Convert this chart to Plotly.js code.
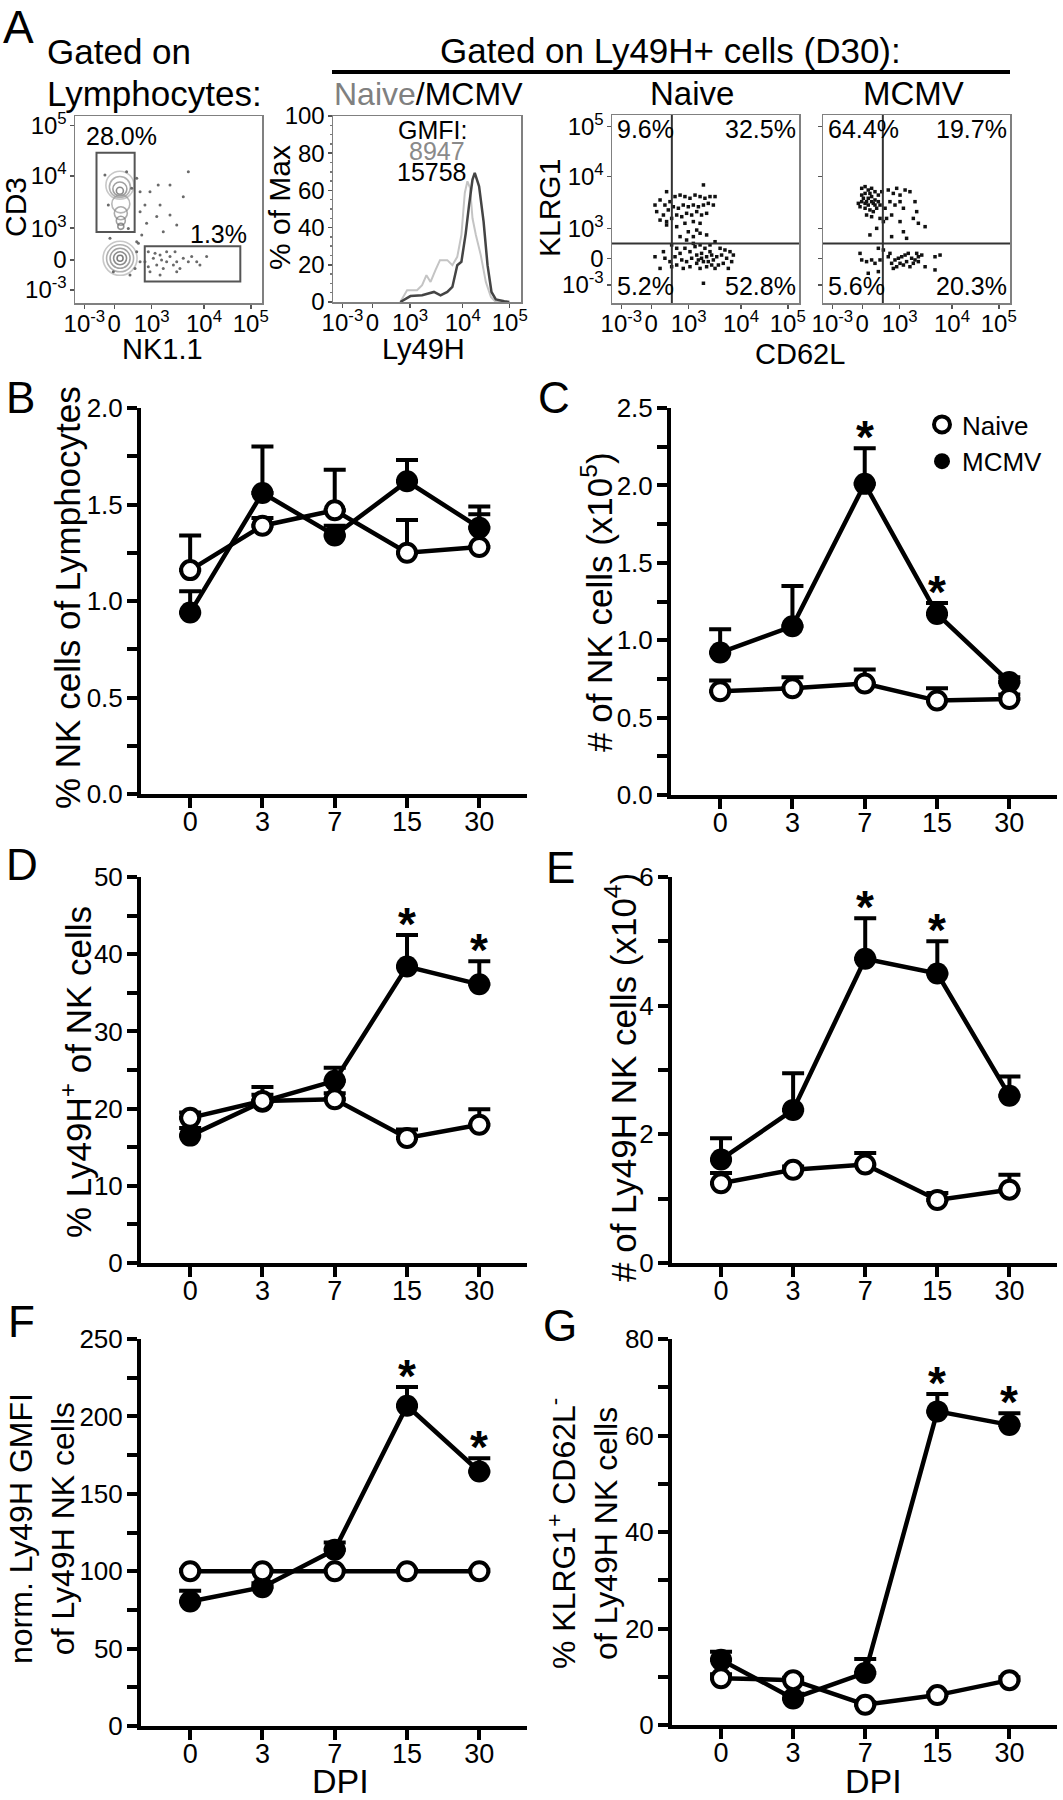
<!DOCTYPE html>
<html>
<head>
<meta charset="utf-8">
<script src="https://cdn.plot.ly/plotly-3.0.1.min.js"></script>
<style>
body { margin: 0; background: #fff; }
#fig { width: 1063px; height: 1800px; }
</style>
</head>
<body>
<div id="fig"></div>
<script>
var W = 1063, H = 1800;
var SANS = '"Liberation Sans", Arial, sans-serif';

// ---- panel A : flow data (display units 0-100 on biexponential scale) ----
var flowTickPos = [5, 21, 41, 69, 94];
var flowTickTxt = ['10<sup>-3</sup>', '0', '10<sup>3</sup>', '10<sup>4</sup>', '10<sup>5</sup>'];
var cd3TickPos = [7, 23, 40, 68, 95];
var klrgTickPos = [9.6, 23.8, 39.7, 67.2, 93.8];
var flowYTxt = ['10<sup>-3</sup>', '0', '10<sup>3</sup>', '10<sup>4</sup>', '10<sup>5</sup>'];

var nkX = [60.6,50.8,44.5,57.9,40.1,37.4,45.5,50.8,43.7,38.3,34.8,34.8,33.0,47.2,54.4,33.0,35.7,
  39.2,41.9,45.5,49.0,43.7,47.2,50.8,54.4,57.9,62.4,70.4,56.1,40.1,37.4,49.0,53.5,45.5,60.6,65.1,
  33.0,34.8,32.1,33.9,16.0,27.6,42.8,46.3,52.6,39.2,54.4,66.8,30.3,28.5,18.7,17.8,29.4,20.5];
var cd3Y = [70.2,63.1,63.1,56.8,59.5,52.4,52.4,47.1,46.2,42.6,48.8,59.5,66.7,38.1,41.7,32.8,36.4,
  27.4,23.9,25.7,22.1,20.3,18.5,24.8,22.1,23.9,24.8,24.8,18.5,16.7,22.1,27.4,27.4,15.0,22.1,22.1,
  27.4,22.1,18.5,31.9,68.4,70.2,26.6,23.0,20.3,19.4,16.7,20.3,61.3,39.9,34.6,52.4,15.0,16.7];
// density contours of the two big populations
var ringX = [24.1,24.1,24.1,24.1,24.1, 24,24,24,24, 24.5,24.5,24.5,24.5];
var ringY = [23.9,23.9,23.9,23.9,23.9, 63,62,61,60, 53,48,44,41];
var ringSize = [34,27,20,13,6, 28,21,14,7, 18,13,9,6];
var ringColor = ['#b0b0b0','#909090','#777','#5a5a5a','#444','#b0b0b0','#909090','#777','#5a5a5a','#999','#888','#777','#666'];
var gateT = [11.5, 31.9, 38.0, 80.4];
var gateNK = [37.3, 88.4, 11.5, 30.4];

var histNaiveX = [35.8,39.4,44.7,47.4,49.7,51.9,54.5,56.9,60.8,63.5,66.1,68.3,70.1,71.5,72.9,74.2,76.0,78.6,81.3,84.0,86.6,92.9];
var histNaiveY = [0,6.3,6.3,9,14.4,10.8,17.1,22.5,22.5,19.8,24.3,36,58.6,64.9,61.3,45,36,25.2,10.8,2.7,0,0];
var histMcmvX = [35.8,41.2,47.4,51.0,53.7,57.2,60.8,63.5,66.1,68.3,70.6,72.4,74.2,75.4,77.7,80.1,82.2,84.3,86.6,91.1,93.8];
var histMcmvY = [0,3.2,3.6,4.5,5.4,3.6,5.4,8.1,19.8,21.6,36.9,52.3,65.8,69.4,62.2,43.2,19.8,5.4,1.4,0.4,0];

var quadX = 32.0, quadY = 31.7;
var naiveCd62l = [29.2,23.0,25.7,28.3,31.0,33.7,36.4,39.0,41.7,44.4,47.1,49.7,52.4,55.1,23.9,27.5,30.1,32.8,35.5,38.1,
  40.8,43.5,46.2,48.9,51.5,54.2,25.7,29.2,31.9,34.6,37.3,39.9,42.6,45.3,47.9,50.6,29.2,34.6,39.0,43.5,47.1,40.8,45.3,
  48.9,36.4,43.5,50.6,47.1,
  23.0,25.7,28.3,31.0,33.7,36.4,39.0,41.7,44.4,47.1,49.7,52.4,55.1,57.8,60.4,63.1,64.9,64.0,61.3,58.6,56.0,53.3,50.6,
  47.9,45.3,42.6,39.9,37.3,34.6,31.9,38.1,41.7,45.3,48.9,51.5,54.2,56.9,59.5,62.2,47.1,50.6,55.1,39.9,43.5,34.6,27.5,
  48.9,31.9,47.9,52.4,46.2,53.3];
var naiveKlrg = [59.2,52.1,54.8,52.1,53.9,56.6,57.4,56.6,55.7,57.4,56.6,55.7,56.6,56.6,48.6,46.8,49.5,51.2,50.4,52.1,
  51.2,52.1,51.2,52.1,53.0,52.1,44.1,43.3,45.0,46.8,45.9,47.7,46.8,48.6,46.8,47.7,41.5,40.6,42.4,43.3,42.4,37.9,38.8,
  62.8,35.3,35.3,36.2,37.1,
  24.6,18.4,23.8,22.0,24.6,26.4,29.1,27.3,30.0,30.9,29.1,30.9,32.6,29.1,28.2,27.3,25.5,22.0,23.8,25.5,24.6,25.5,24.6,
  23.8,25.5,23.8,22.0,22.9,20.2,19.3,18.4,19.3,21.1,22.0,22.0,22.9,20.2,21.1,18.4,18.4,19.3,18.4,33.5,31.7,29.1,27.3,
  10.5,30.9,26.4,27.3,22.9,20.2];
var mcmvCd62l = [20.7,22.5,24.2,26.0,27.8,20.7,22.5,24.2,26.0,27.8,29.6,20.7,22.5,24.2,26.0,27.8,29.6,19.8,22.5,25.1,
  26.9,23.3,26.0,30.5,31.4,18.9,21.6,23.3,25.1,26.9,28.7,
  34.9,37.6,39.4,41.2,43.9,46.5,49.2,50.1,41.2,38.5,43.0,35.8,33.2,34.0,36.7,41.2,43.0,44.7,48.3,51.0,54.6,32.3,28.7,
  25.1,36.7,30.5,
  20.7,23.3,26.0,27.8,30.5,29.6,24.2,19.8,34.9,36.7,38.5,40.3,42.1,43.9,45.6,47.4,49.2,51.0,48.3,44.7,41.2,39.4,37.6,
  43.0,50.1,52.8,59.9,62.6,54.6,59.9,32.3,29.6,35.8,46.5,51.0];
var mcmvKlrg = [61.0,61.9,60.1,61.0,59.2,57.4,58.3,55.7,56.6,54.8,57.4,53.9,53.0,52.1,53.9,52.1,53.9,51.2,50.4,49.5,
  48.6,46.8,45.9,52.1,59.2,53.0,55.7,53.9,58.3,53.0,50.4,
  60.1,58.3,61.0,57.4,60.1,59.2,53.9,48.6,53.9,52.1,50.4,53.9,50.4,45.0,46.8,43.3,37.9,34.4,45.0,42.4,40.6,43.3,39.7,
  36.2,35.3,45.0,
  22.9,22.0,22.9,21.1,22.9,16.7,15.8,26.4,24.6,21.1,22.9,23.8,24.6,25.5,26.4,23.8,22.9,24.6,21.1,22.0,21.1,19.3,18.4,
  20.2,26.4,25.5,24.6,25.5,19.3,17.6,28.2,29.1,26.4,19.3,22.0];

// ---- panels B-G : time course ----
var dpi = ['0', '3', '7', '15', '30'];
var noErr = [0, 0, 0, 0, 0];

var nkPctNaive = [1.16, 1.39, 1.47, 1.25, 1.28];
var nkPctNaiveErr = [0.18, 0.04, 0.21, 0.17, 0.17];
var nkPctMcmv = [0.94, 1.56, 1.34, 1.62, 1.38];
var nkPctMcmvErr = [0.11, 0.24, 0.05, 0.11, 0.11];

var nkNumNaive = [0.67, 0.69, 0.72, 0.61, 0.62];
var nkNumNaiveErr = [0.07, 0.07, 0.09, 0.08, 0.03];
var nkNumMcmv = [0.92, 1.09, 2.01, 1.17, 0.73];
var nkNumMcmvErr = [0.15, 0.26, 0.23, 0.07, 0.03];
var nkNumStars = [2, 3];

var lyPctNaive = [18.8, 21.0, 21.2, 16.2, 17.9];
var lyPctNaiveErr = [0.7, 0.8, 0.8, 1.1, 2.0];
var lyPctMcmv = [16.5, 20.9, 23.6, 38.4, 36.1];
var lyPctMcmvErr = [1.0, 1.9, 1.7, 4.1, 3.0];
var lyPctStars = [3, 4];

var lyNumNaive = [1.24, 1.45, 1.53, 0.98, 1.14];
var lyNumNaiveErr = [0.16, 0.05, 0.18, 0.11, 0.23];
var lyNumMcmv = [1.61, 2.38, 4.73, 4.50, 2.60];
var lyNumMcmvErr = [0.33, 0.57, 0.63, 0.50, 0.30];
var lyNumStars = [2, 3];

var gmfiNaive = [100, 100, 100, 100, 100];
var gmfiNaiveErr = [1, 1, 1, 1, 1];
var gmfiMcmv = [80.4, 89.7, 113.8, 206.9, 164.4];
var gmfiMcmvErr = [6.9, 2.5, 4.7, 12.1, 8.6];
var gmfiStars = [3, 4];

var klrgNaive = [9.7, 9.3, 4.2, 6.2, 9.3];
var klrgNaiveErr = [0.8, 0.5, 0.5, 0.5, 0.6];
var klrgMcmv = [13.5, 5.5, 10.8, 65.0, 62.2];
var klrgMcmvErr = [1.7, 1.0, 2.9, 3.6, 2.4];
var klrgStars = [3, 4];

function px(x) { return x / W; }
function py(y) { return 1 - y / H; }

// ---------- traces ----------
var data = [];

// scatter CD3 vs NK1.1
data.push({type: 'scatter', mode: 'markers', x: ringX, y: ringY, xaxis: 'x', yaxis: 'y', hoverinfo: 'skip',
  marker: {symbol: 'circle-open', size: ringSize, color: ringColor, line: {width: 1.6}}, showlegend: false});
data.push({type: 'scatter', mode: 'markers', x: nkX, y: cd3Y, xaxis: 'x', yaxis: 'y',
  marker: {size: 3, color: '#6a6a6a'}, showlegend: false});

// histogram Ly49H
data.push({type: 'scatter', mode: 'lines', x: histNaiveX, y: histNaiveY, xaxis: 'x2', yaxis: 'y2',
  line: {color: '#c4c4c4', width: 2}, showlegend: false});
data.push({type: 'scatter', mode: 'lines', x: histMcmvX, y: histMcmvY, xaxis: 'x2', yaxis: 'y2',
  line: {color: '#444', width: 2.5}, showlegend: false});

// KLRG1 vs CD62L
data.push({type: 'scatter', mode: 'markers', x: naiveCd62l, y: naiveKlrg, xaxis: 'x3', yaxis: 'y3',
  marker: {symbol: 'square', size: 3.5, color: '#111'}, showlegend: false});
data.push({type: 'scatter', mode: 'markers', x: mcmvCd62l, y: mcmvKlrg, xaxis: 'x4', yaxis: 'y4',
  marker: {symbol: 'square', size: 3.5, color: '#111'}, showlegend: false});

function timeTraces(n, naive, naiveErr, mcmv, mcmvErr) {
  var xa = 'x' + n, ya = 'y' + n;
  return [
    {type: 'scatter', mode: 'lines+markers', name: 'MCMV', x: dpi, y: mcmv, xaxis: xa, yaxis: ya,
      cliponaxis: false, showlegend: false, line: {color: '#000', width: 4.5},
      marker: {size: 22, color: '#000'},
      error_y: {type: 'data', symmetric: false, array: mcmvErr, arrayminus: noErr, color: '#000', thickness: 4, width: 11}},
    {type: 'scatter', mode: 'lines+markers', name: 'Naive', x: dpi, y: naive, xaxis: xa, yaxis: ya,
      cliponaxis: false, showlegend: false, line: {color: '#000', width: 4.5},
      marker: {size: 18, color: '#fff', line: {color: '#000', width: 4}},
      error_y: {type: 'data', symmetric: false, array: naiveErr, arrayminus: noErr, color: '#000', thickness: 4, width: 11}}
  ];
}
data = data.concat(timeTraces(5, nkPctNaive, nkPctNaiveErr, nkPctMcmv, nkPctMcmvErr));
data = data.concat(timeTraces(6, nkNumNaive, nkNumNaiveErr, nkNumMcmv, nkNumMcmvErr));
data = data.concat(timeTraces(7, lyPctNaive, lyPctNaiveErr, lyPctMcmv, lyPctMcmvErr));
data = data.concat(timeTraces(8, lyNumNaive, lyNumNaiveErr, lyNumMcmv, lyNumMcmvErr));
data = data.concat(timeTraces(9, gmfiNaive, gmfiNaiveErr, gmfiMcmv, gmfiMcmvErr));
data = data.concat(timeTraces(10, klrgNaive, klrgNaiveErr, klrgMcmv, klrgMcmvErr));

// legend entries (panel C)
data.push({type: 'scatter', mode: 'markers', name: 'Naive', x: [null], y: [null], xaxis: 'x6', yaxis: 'y6',
  marker: {size: 16, color: '#fff', line: {color: '#000', width: 4}}});
data.push({type: 'scatter', mode: 'markers', name: 'MCMV', x: [null], y: [null], xaxis: 'x6', yaxis: 'y6',
  marker: {size: 18, color: '#000'}});

// ---------- axes ----------
function flowAxis(l, r, vals, txt, showLabels) {
  return {domain: [px(l), px(r)], range: [0, 100], showline: true, mirror: true, linecolor: '#808080', linewidth: 1.5,
    zeroline: false, showgrid: false, ticks: 'outside', ticklen: 4, tickwidth: 1.5, tickcolor: '#555',
    tickmode: 'array', tickvals: vals, ticktext: txt, showticklabels: showLabels, tickangle: 0,
    ticklabelstandoff: -5, tickfont: {family: SANS, size: 24, color: '#000'}, fixedrange: true};
}
function flowYAxis(t, b, vals, txt, showLabels, anchor) {
  var a = flowAxis(0, 0, vals, txt, showLabels);
  a.domain = [py(b), py(t)];
  a.anchor = anchor;
  a.ticklabelstandoff = -2;
  return a;
}
function timeX(l, r, anchor) {
  return {domain: [px(l), px(r)], anchor: anchor, type: 'category', range: [-0.68, 4.66],
    showline: true, linewidth: 4, linecolor: '#000', zeroline: false, showgrid: false,
    ticks: 'outside', ticklen: 10, tickwidth: 4, tickcolor: '#000', ticklabelstandoff: -9, tickangle: 0,
    tickfont: {family: SANS, size: 27, color: '#000'}, fixedrange: true};
}
function timeY(t, b, anchor, top, step, fmt) {
  return {domain: [py(b), py(t)], anchor: anchor, range: [0, top], tick0: 0, dtick: step, tickformat: fmt,
    showline: true, linewidth: 4, linecolor: '#000', zeroline: false, showgrid: false,
    ticks: 'outside', ticklen: 10, tickwidth: 4, tickcolor: '#000', ticklabelstandoff: -1,
    minor: {tick0: 0, dtick: step / 2, ticks: 'outside', ticklen: 10, tickwidth: 4, tickcolor: '#000'},
    tickfont: {family: SANS, size: 26, color: '#000'}, fixedrange: true};
}

var layout = {
  width: W, height: H, margin: {l: 0, r: 0, t: 0, b: 0},
  paper_bgcolor: '#fff', plot_bgcolor: 'rgba(0,0,0,0)',
  font: {family: SANS, color: '#000'},
  showlegend: true,
  legend: {x: px(922), y: py(401), xanchor: 'left', yanchor: 'top', bgcolor: 'rgba(0,0,0,0)',
    font: {family: SANS, size: 26, color: '#000'}, tracegroupgap: 0, itemwidth: 30},

  xaxis: Object.assign(flowAxis(75, 262, flowTickPos, flowTickTxt, true), {anchor: 'y'}),
  yaxis: flowYAxis(116, 303, cd3TickPos, flowYTxt, true, 'x'),
  xaxis2: Object.assign(flowAxis(333, 521, flowTickPos, flowTickTxt, true), {anchor: 'y2'}),
  yaxis2: Object.assign(flowYAxis(116, 302, null, null, true, 'x2'), {tickmode: 'linear', tick0: 0, dtick: 20,
    minor: {dtick: 5, ticks: 'outside', ticklen: 2, tickcolor: '#777'}}),
  xaxis3: Object.assign(flowAxis(612, 799, flowTickPos, flowTickTxt, true), {anchor: 'y3'}),
  yaxis3: flowYAxis(115, 303, klrgTickPos, flowYTxt, true, 'x3'),
  xaxis4: Object.assign(flowAxis(823, 1010, flowTickPos, flowTickTxt, true), {anchor: 'y4'}),
  yaxis4: flowYAxis(115, 303, klrgTickPos, flowYTxt, false, 'x4'),

  xaxis5: timeX(141, 527, 'y5'), yaxis5: timeY(408, 794, 'x5', 2.0, 0.5, '.1f'),
  xaxis6: timeX(671, 1057, 'y6'), yaxis6: timeY(408, 795, 'x6', 2.5, 0.5, '.1f'),
  xaxis7: timeX(141, 527, 'y7'), yaxis7: timeY(877, 1263, 'x7', 50, 10, 'd'),
  xaxis8: timeX(672, 1057, 'y8'), yaxis8: timeY(877, 1263, 'x8', 6, 2, 'd'),
  xaxis9: timeX(141, 527, 'y9'), yaxis9: timeY(1339, 1726, 'x9', 250, 50, 'd'),
  xaxis10: timeX(672, 1057, 'y10'), yaxis10: timeY(1339, 1725, 'x10', 80, 20, 'd')
};

// ---------- shapes ----------
var shapes = [
  {type: 'line', xref: 'paper', yref: 'paper', x0: px(332), x1: px(1010), y0: py(72), y1: py(72), line: {color: '#000', width: 4}},
  {type: 'rect', xref: 'x', yref: 'y', x0: gateT[0], x1: gateT[1], y0: gateT[2], y1: gateT[3], line: {color: '#555', width: 2}},
  {type: 'rect', xref: 'x', yref: 'y', x0: gateNK[0], x1: gateNK[1], y0: gateNK[2], y1: gateNK[3], line: {color: '#555', width: 2}}
];
['3', '4'].forEach(function (n) {
  shapes.push({type: 'line', xref: 'x' + n, yref: 'y' + n, x0: quadX, x1: quadX, y0: 0, y1: 100, line: {color: '#333', width: 2}});
  shapes.push({type: 'line', xref: 'x' + n, yref: 'y' + n, x0: 0, x1: 100, y0: quadY, y1: quadY, line: {color: '#333', width: 2}});
});
layout.shapes = shapes;

// ---------- text ----------
function note(text, x, y, size, opts) {
  return Object.assign({text: text, x: px(x), y: py(y), xref: 'paper', yref: 'paper', showarrow: false,
    font: {family: SANS, size: size, color: '#000'}, xanchor: 'center', yanchor: 'middle'}, opts || {});
}
function rot(text, x, y, size) { return note(text, x, y, size, {textangle: -90}); }
function inAx(n, text, x, y, size, opts) {
  return Object.assign({text: text, x: x, y: y, xref: 'x' + n, yref: 'y' + n, showarrow: false,
    font: {family: SANS, size: size, color: '#000'}, xanchor: 'center', yanchor: 'middle'}, opts || {});
}

var ann = [
  note('A', 18, 27, 46),
  note('Gated on', 45, 52, 35, {xanchor: 'left'}),
  note('Lymphocytes:', 45, 94, 35, {xanchor: 'left'}),
  note('Gated on Ly49H+ cells (D30):', 670, 50, 35),
  note('<span style="color:#808080">Naive</span>/MCMV', 332, 94, 32, {xanchor: 'left'}),
  note('Naive', 692, 94, 33),
  note('MCMV', 913, 94, 33),
  note('NK1.1', 162, 349, 29),
  note('Ly49H', 423, 349, 29),
  note('CD62L', 800, 354, 29),
  rot('CD3', 16, 207, 30),
  rot('% of Max', 280, 208, 30),
  rot('KLRG1', 550, 208, 30),

  inAx('', '28.0%', 24.6, 89.4, 25),
  inAx('', '1.3%', 76.5, 37.1, 25),
  inAx('2', 'GMFI:', 52.7, 92.5, 25),
  inAx('2', '8947', 55.3, 81.2, 25, {font: {family: SANS, size: 25, color: '#8a8a8a'}}),
  inAx('2', '15758', 52.7, 69.9, 25),
  inAx('3', '9.6%', 1.5, 92.8, 25, {xanchor: 'left'}),
  inAx('3', '32.5%', 99.5, 92.8, 25, {xanchor: 'right'}),
  inAx('3', '5.2%', 1.5, 8.8, 25, {xanchor: 'left'}),
  inAx('3', '52.8%', 99.5, 8.8, 25, {xanchor: 'right'}),
  inAx('4', '64.4%', 1.5, 92.8, 25, {xanchor: 'left'}),
  inAx('4', '19.7%', 99.5, 92.8, 25, {xanchor: 'right'}),
  inAx('4', '5.6%', 1.5, 8.8, 25, {xanchor: 'left'}),
  inAx('4', '20.3%', 99.5, 8.8, 25, {xanchor: 'right'}),

  note('B', 20, 397, 44), note('C', 554, 397, 44), note('D', 22, 864, 44),
  note('E', 560, 867, 44), note('F', 21, 1321, 44), note('G', 560, 1325, 44),

  rot('% NK cells of Lymphocytes', 67, 598, 35),
  rot('# of NK cells (x10<sup>5</sup>)', 597, 602, 35),
  rot('% Ly49H<sup>+</sup> of NK cells', 76, 1072, 35),
  rot('# of Ly49H NK cells (x10<sup>4</sup>)', 621, 1078, 35),
  rot('norm. Ly49H GMFI<br>of Ly49H NK cells', 42, 1529, 32),
  rot('% KLRG1<sup>+</sup> CD62L<sup>-</sup><br>of Ly49H NK cells', 583, 1534, 32),
  note('DPI', 340, 1781, 34),
  note('DPI', 873, 1781, 34)
];
// the first scatter uses the plain 'x'/'y' axis names
ann.forEach(function (a) { if (a.xref === 'x') { a.yref = 'y'; } });

function stars(n, idx, mean, err) {
  idx.forEach(function (i) {
    ann.push({text: '<b>*</b>', x: i, y: mean[i] + err[i], xref: 'x' + n, yref: 'y' + n, showarrow: false,
      font: {family: SANS, size: 46, color: '#000'}, xanchor: 'center', yanchor: 'middle', yshift: 11});
  });
}
stars(6, nkNumStars, nkNumMcmv, nkNumMcmvErr);
stars(7, lyPctStars, lyPctMcmv, lyPctMcmvErr);
stars(8, lyNumStars, lyNumMcmv, lyNumMcmvErr);
stars(9, gmfiStars, gmfiMcmv, gmfiMcmvErr);
stars(10, klrgStars, klrgMcmv, klrgMcmvErr);

layout.annotations = ann;

Plotly.newPlot('fig', data, layout, {staticPlot: true});
</script>
</body>
</html>
